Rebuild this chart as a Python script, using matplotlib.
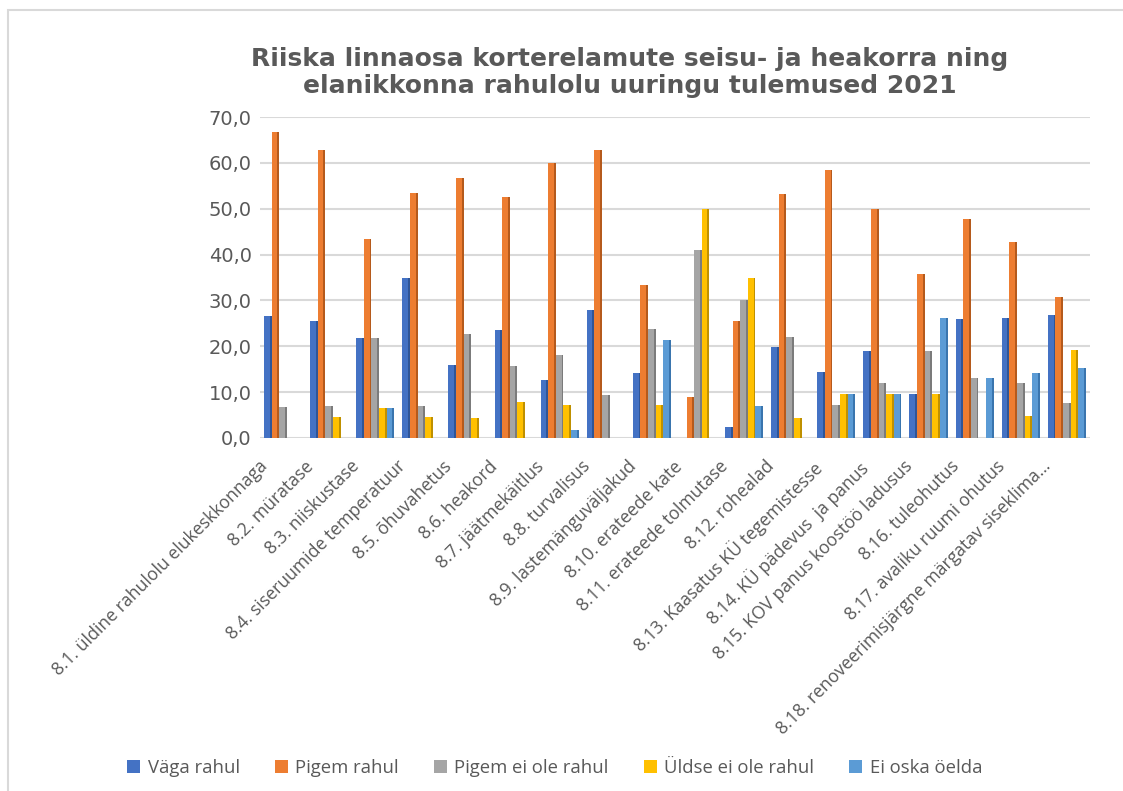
import matplotlib
matplotlib.use("Agg")
import matplotlib.pyplot as plt
import numpy as np
from matplotlib.patches import Rectangle
from matplotlib.transforms import ScaledTranslation

categories = [
    "8.1. üldine rahulolu elukeskkonnaga",
    "8.2. müratase",
    "8.3. niiskustase",
    "8.4. siseruumide temperatuur",
    "8.5. õhuvahetus",
    "8.6. heakord",
    "8.7. jäätmekäitlus",
    "8.8. turvalisus",
    "8.9. lastemänguväljakud",
    "8.10. erateede kate",
    "8.11. erateede tolmutase",
    "8.12. rohealad",
    "8.13. Kaasatus KÜ tegemistesse",
    "8.14. KÜ pädevus  ja panus",
    "8.15. KOV panus koostöö ladusus",
    "8.16. tuleohutus",
    "8.17. avaliku ruumi ohutus",
    "8.18. renoveerimisjärgne märgatav siseklima...",
]

series_names = ["Väga rahul", "Pigem rahul", "Pigem ei ole rahul",
                "Üldse ei ole rahul", "Ei oska öelda"]

vaga_rahul = [26.7, 25.6, 21.7, 34.8, 15.9, 23.6, 12.7, 27.9, 14.2,
              0.0, 2.3, 19.9, 14.5, 19.0, 9.5, 26.0, 26.1, 26.8]
pigem_rahul = [66.7, 62.8, 43.4, 53.4, 56.8, 52.6, 60.0, 62.8, 33.3,
               9.0, 25.5, 53.3, 58.5, 50.0, 35.7, 47.8, 42.8, 30.8]
pigem_ei_ole = [6.7, 6.9, 21.7, 6.9, 22.7, 15.7, 18.1, 9.3, 23.8,
                40.9, 30.2, 22.1, 7.3, 11.9, 19.0, 13.0, 11.9, 7.6]
uldse_ei_ole = [0.0, 4.6, 6.5, 4.6, 4.4, 7.9, 7.3, 0.0, 7.1,
                50.0, 34.8, 4.4, 9.7, 9.5, 9.5, 0.0, 4.7, 19.2]
ei_oska = [0.0, 0.0, 6.5, 0.0, 0.0, 0.0, 1.8, 0.0, 21.4,
           0.0, 6.9, 0.0, 9.7, 9.5, 26.1, 13.0, 14.2, 15.3]

values = [vaga_rahul, pigem_rahul, pigem_ei_ole, uldse_ei_ole, ei_oska]
colors = ["#4472C4", "#ED7D31", "#A5A5A5", "#FFC000", "#5B9BD5"]
side_colors = ["#2F5597", "#B55A1C", "#7B7B7B", "#BF9000", "#3A75AE"]

text_col = "#595959"

fig = plt.figure(figsize=(11.23, 7.91), dpi=100)
ax = fig.add_axes([0.2315, 0.4463, 0.739, 0.4057])

x = np.arange(len(categories))
bw = 0.165
front = bw * 0.75
for k, (vals, c, sc) in enumerate(zip(values, colors, side_colors)):
    pos = x + (k - 2) * bw
    # darker right side to mimic the 3D bars
    ax.bar(pos + bw / 2 - (bw - front) / 2, vals, width=bw - front,
           color=sc, zorder=3, linewidth=0)
    ax.bar(pos - (bw - front) / 2, vals, width=front, color=c, zorder=4,
           linewidth=0, label=series_names[k])

ax.set_xlim(-0.5, len(categories) - 0.5)
ax.set_ylim(0, 70)
ax.set_yticks(np.arange(0, 71, 10))
ax.set_yticklabels([f"{v:.1f}".replace(".", ",") for v in np.arange(0, 71, 10)])
ax.yaxis.grid(True, color="#D9D9D9", linewidth=1.5, zorder=0)
ax.set_axisbelow(True)
for s in ax.spines.values():
    s.set_visible(False)
ax.tick_params(axis="both", length=0, colors=text_col)
ax.tick_params(axis="y", labelsize=14, pad=6)

ax.set_xticks(x)
ax.set_xticklabels(categories, rotation=45, ha="right", va="top",
                   rotation_mode="anchor", fontsize=12.7,
                   family="Open Sans", color=text_col)
ax.tick_params(axis="x", pad=14)
shift = ScaledTranslation(-25 / 100, 0, fig.dpi_scale_trans)
for lbl in ax.get_xticklabels():
    lbl.set_transform(lbl.get_transform() + shift)

fig.text(0.561, 0.908,
         "Riiska linnaosa korterelamute seisu- ja heakorra ning\n"
         "elanikkonna rahulolu uuringu tulemused 2021",
         ha="center", va="center", fontsize=18, fontweight="bold",
         color=text_col, linespacing=1.15)

leg = fig.legend(loc="center", bbox_to_anchor=(0.494, 0.029), ncol=5,
                 frameon=False, handlelength=0.7, handleheight=0.7,
                 handletextpad=0.4, columnspacing=1.9,
                 prop={"family": "Open Sans", "size": 13.3})
for t in leg.get_texts():
    t.set_color(text_col)

fig.patches.append(Rectangle((8 / 1123, -0.1), 1.2, 1.1 - 10 / 791,
                             transform=fig.transFigure, fill=False,
                             edgecolor="#D9D9D9", linewidth=1.5))

fig.savefig("out.png", dpi=100)
